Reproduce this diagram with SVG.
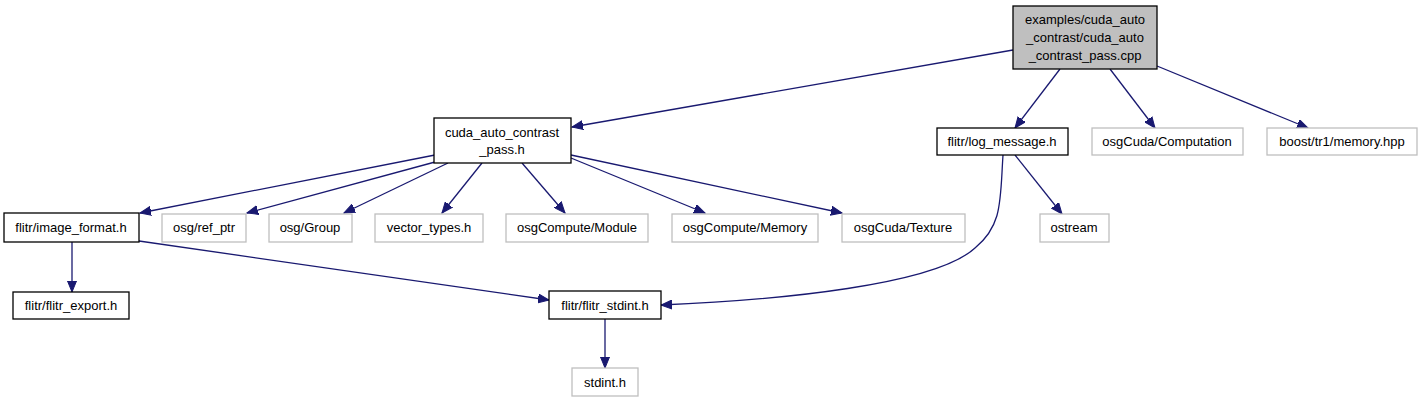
<svg xmlns="http://www.w3.org/2000/svg" width="1423" height="403" viewBox="0 0 1423 403">
<style>
text{font-family:"Liberation Sans",Arial,Helvetica,sans-serif;font-size:13px;fill:#000;text-anchor:middle}
.n rect{fill:#fff;stroke:#000;stroke-width:1.3}
.g rect{fill:#fff;stroke:#bfbfbf;stroke-width:1.3}
.root rect{fill:#bfbfbf;stroke:#000;stroke-width:1.3}
#edges path{fill:none;stroke:#191970;stroke-width:1.3;marker-end:url(#ah)}
</style>
<defs>
<marker id="ah" markerUnits="userSpaceOnUse" markerWidth="12" markerHeight="10" refX="11" refY="5" orient="auto" viewBox="0 0 12 10">
<path d="M0,0.5 L11,5 L0,9.5 Z" fill="#191970" stroke="#191970"/>
</marker>
</defs>
<rect width="1423" height="403" fill="#fff"/>
<g id="edges">
<path d="M1013,50 L572,127"/>
<path d="M1060,69 L1015,128"/>
<path d="M1110,69 L1155,128"/>
<path d="M1157,66 L1308,128"/>
<path d="M435,155 L140,213"/>
<path d="M435,162 L247,213"/>
<path d="M448,163 L344,213"/>
<path d="M482,163 L442,213"/>
<path d="M522,163 L565,213"/>
<path d="M571,158 L705,213"/>
<path d="M571,155 L842,213"/>
<path d="M72,242 L72,292"/>
<path d="M139,241 L549,300"/>
<path d="M1003,155 C1000,200 1003,225 975,248 C935,285 780,300 661,305"/>
<path d="M1015,155 L1062,214"/>
<path d="M605,319 L605,368"/>
</g>
<g id="node_root" class="root"><rect x="1013" y="6" width="144" height="63"/><text x="1085" y="24">examples/cuda_auto</text><text x="1085" y="42">_contrast/cuda_auto</text><text x="1085" y="60">_contrast_pass.cpp</text></g>
<g id="node_pass_h" class="n"><rect x="434" y="118" width="137" height="45"/><text x="502" y="137">cuda_auto_contrast</text><text x="502" y="154">_pass.h</text></g>
<g id="node_log_message" class="n"><rect x="937" y="128" width="131" height="27"/><text x="1002" y="146">flitr/log_message.h</text></g>
<g id="node_computation" class="g"><rect x="1092" y="128" width="151" height="27"/><text x="1167" y="146">osgCuda/Computation</text></g>
<g id="node_memory_hpp" class="g"><rect x="1267" y="128" width="150" height="27"/><text x="1342" y="146">boost/tr1/memory.hpp</text></g>
<g id="node_image_format" class="n"><rect x="4" y="213" width="135" height="29"/><text x="71" y="232">flitr/image_format.h</text></g>
<g id="node_ref_ptr" class="g"><rect x="162" y="214" width="84" height="28"/><text x="204" y="232">osg/ref_ptr</text></g>
<g id="node_group" class="g"><rect x="269" y="214" width="83" height="28"/><text x="310" y="232">osg/Group</text></g>
<g id="node_vector_types" class="g"><rect x="375" y="214" width="108" height="28"/><text x="429" y="232">vector_types.h</text></g>
<g id="node_module" class="g"><rect x="506" y="214" width="142" height="28"/><text x="577" y="232">osgCompute/Module</text></g>
<g id="node_cmemory" class="g"><rect x="672" y="214" width="146" height="28"/><text x="745" y="232">osgCompute/Memory</text></g>
<g id="node_texture" class="g"><rect x="842" y="214" width="123" height="28"/><text x="903" y="232">osgCuda/Texture</text></g>
<g id="node_ostream" class="g"><rect x="1040" y="214" width="69" height="28"/><text x="1074" y="232">ostream</text></g>
<g id="node_flitr_export" class="n"><rect x="13" y="292" width="116" height="27"/><text x="71" y="310">flitr/flitr_export.h</text></g>
<g id="node_flitr_stdint" class="n"><rect x="549" y="291" width="112" height="28"/><text x="605" y="310">flitr/flitr_stdint.h</text></g>
<g id="node_stdint" class="g"><rect x="572" y="368" width="66" height="28"/><text x="605" y="387">stdint.h</text></g>
</svg>
